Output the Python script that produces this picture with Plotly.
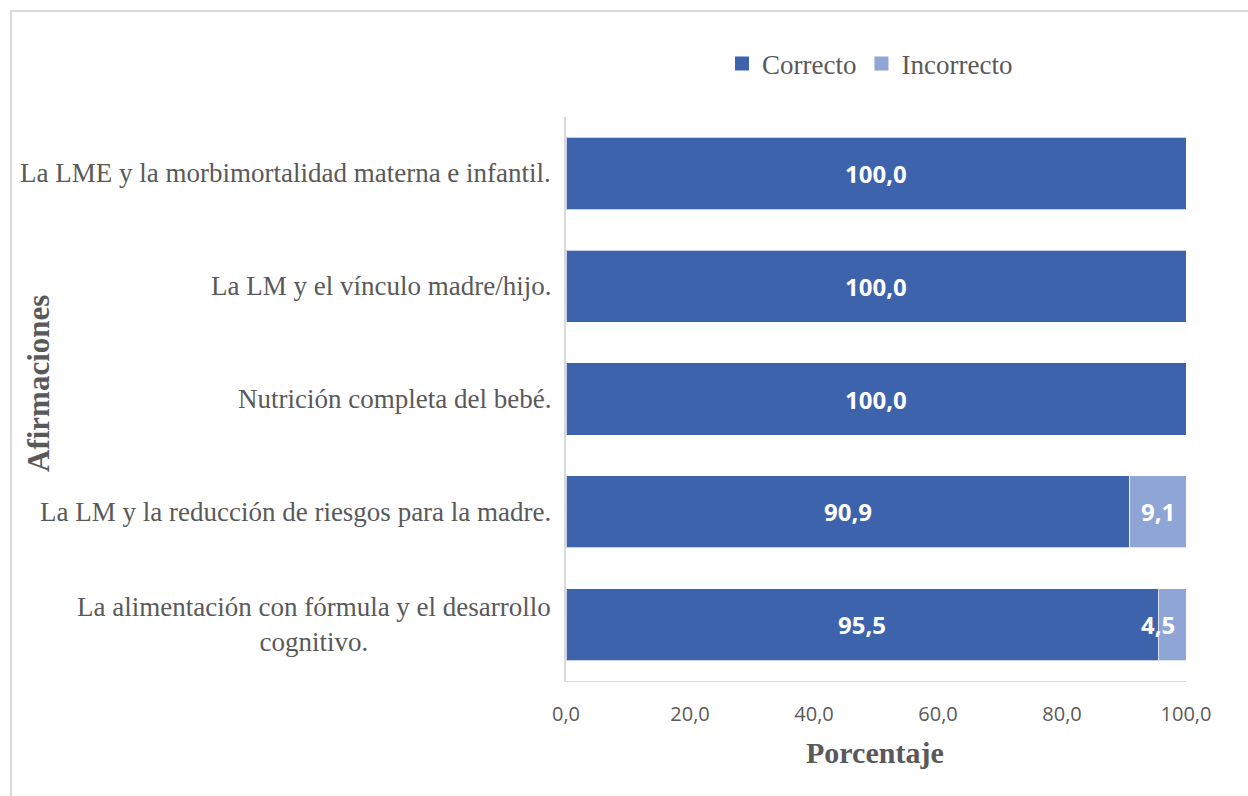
import plotly.graph_objects as go

# Statements (top to bottom) and percentage of correct / incorrect answers
afirmaciones = [
    "La LME y la morbimortalidad materna e infantil.",
    "La LM y el vínculo madre/hijo.",
    "Nutrición completa del bebé.",
    "La LM y la reducción de riesgos para la madre.",
    "La alimentación con fórmula y el desarrollo<br>cognitivo.",
]
correcto = [100.0, 100.0, 100.0, 90.9, 95.5]
incorrecto = [0.0, 0.0, 0.0, 9.1, 4.5]
x_ticks = [0, 20, 40, 60, 80, 100]

COL_OK = "#3c63ab"
COL_BAD = "#8fa5d6"
GREY_TXT = "#595959"
SERIF = "Liberation Serif, Times New Roman, serif"
SANS = "Open Sans, Noto Sans, sans-serif"

W, H = 1248, 796
ML, MR, MT, MB = 566, 62, 117, 115
PW, PH = W - ML - MR, H - MT - MB


def px_x(px):
    return (px - ML) / PW


def px_y(py):
    return (H - MB - py) / PH


def fmt(v):
    return f"{v:.1f}".replace(".", ",")


fig = go.Figure()
fig.add_trace(go.Bar(
    y=afirmaciones, x=correcto, name="Correcto", orientation="h", showlegend=False,
    marker=dict(color=COL_OK, line=dict(color="rgba(255,255,255,0.7)", width=1)),
))
fig.add_trace(go.Bar(
    y=afirmaciones, x=incorrecto, name="Incorrecto", orientation="h", showlegend=False,
    marker=dict(color=COL_BAD, line=dict(color="rgba(255,255,255,0.7)", width=1)),
))
# legend entries with square swatches
for name, col in [("Correcto", COL_OK), ("Incorrecto", COL_BAD)]:
    fig.add_trace(go.Scatter(
        x=[None], y=[None], mode="markers", name=name,
        marker=dict(symbol="square", size=14, color=col),
    ))

LABEL_FONT = dict(family=SANS, size=24, color="white")
annotations = []
# value labels centred in each segment; narrow segments keep the label inside the plot
for cat, c, i in zip(afirmaciones, correcto, incorrecto):
    annotations.append(dict(
        x=c / 2, y=cat, xref="x", yref="y", text=f"<b>{fmt(c)}</b>",
        showarrow=False, font=LABEL_FONT,
    ))
    if i > 0:
        if i < 6:
            annotations.append(dict(
                x=c + i, y=cat, xref="x", yref="y", text=f"<b>{fmt(i)}</b>",
                xanchor="right", xshift=-9, showarrow=False, font=LABEL_FONT,
            ))
        else:
            annotations.append(dict(
                x=c + i / 2, y=cat, xref="x", yref="y", text=f"<b>{fmt(i)}</b>",
                showarrow=False, font=LABEL_FONT,
            ))

# category labels, right-aligned next to the axis
for cat in afirmaciones:
    annotations.append(dict(
        x=px_x(553), y=cat, xref="paper", yref="y", text=cat,
        xanchor="right", yanchor="middle", align="center", showarrow=False,
        font=dict(family=SERIF, size=27, color=GREY_TXT),
    ))

# axis titles
annotations.append(dict(
    x=px_x(875), y=px_y(752), xref="paper", yref="paper",
    xanchor="center", yanchor="middle",
    text="<b>Porcentaje</b>", showarrow=False,
    font=dict(family=SERIF, size=30, color=GREY_TXT),
))
annotations.append(dict(
    x=px_x(38), y=px_y(384), xref="paper", yref="paper",
    xanchor="center", yanchor="middle",
    text="<b>Afirmaciones</b>", showarrow=False, textangle=-90,
    font=dict(family=SERIF, size=31, color=GREY_TXT),
))

fig.update_layout(
    width=W, height=H,
    margin=dict(l=ML, r=MR, t=MT, b=MB),
    paper_bgcolor="white", plot_bgcolor="white",
    barmode="stack", bargap=0.36,
    separators=",.",
    showlegend=True,
    legend=dict(
        orientation="h", x=px_x(870), y=px_y(64), xanchor="center", yanchor="middle",
        font=dict(family=SERIF, size=27, color=GREY_TXT),
        itemwidth=30, traceorder="normal",
    ),
    xaxis=dict(
        range=[0, 100], tickvals=x_ticks, tickformat=".1f",
        showgrid=False, zeroline=False, showline=True, linecolor="#d9d9d9", linewidth=1,
        ticks="", ticklabelstandoff=15,
        tickfont=dict(family=SANS, size=20, color=GREY_TXT),
    ),
    yaxis=dict(
        autorange="reversed", showticklabels=False, showgrid=False,
        showline=True, linecolor="#d9d9d9", linewidth=2, ticks="",
    ),
    annotations=annotations,
    shapes=[dict(
        type="rect", xref="paper", yref="paper",
        x0=px_x(11), y0=px_y(830), x1=px_x(1290), y1=px_y(11),
        line=dict(color="#d9d9d9", width=2), fillcolor="rgba(0,0,0,0)", layer="below",
    )],
)

fig.write_html("out.html")
